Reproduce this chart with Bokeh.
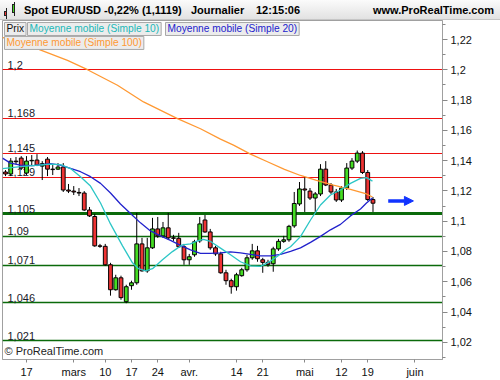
import numpy as np
from bokeh.plotting import figure
from bokeh.layouts import column
from bokeh.models import Range1d, FixedTicker, Label, Arrow, NormalHead, ColumnDataSource, Div
from bokeh.core.properties import value
from bokeh.embed import file_html
from bokeh.resources import INLINE

FONT = "Liberation Sans"

# ---------------- data ----------------
# daily candles, trading-day index 0..70 (11 Feb .. 20 May)
open_ = [1.1325, 1.1312, 1.1397, 1.1417, 1.1318, 1.1399, 1.1404, 1.1364, 1.1410, 1.1344,
         1.1344, 1.1358, 1.1206, 1.1199, 1.1190, 1.1186, 1.1074, 1.1031, 1.0837, 1.0834,
         1.0712, 1.0547, 1.0626, 1.0468, 1.0574, 1.0593, 1.0850, 1.0672, 1.0824, 1.0949,
         1.0903, 1.0956, 1.0890, 1.0887, 1.0831, 1.0745, 1.0778, 1.0870, 1.1008, 1.0929,
         1.0824, 1.0784, 1.0659, 1.0607, 1.0567, 1.0640, 1.0679, 1.0758, 1.0804, 1.0745,
         1.0728, 1.0719, 1.0817, 1.0867, 1.0877, 1.0969, 1.1114, 1.1213, 1.1199, 1.1153,
         1.1180, 1.1344, 1.1239, 1.1193, 1.1140, 1.1219, 1.1351, 1.1397, 1.1450, 1.1322,
         1.1143]
high = [1.1338, 1.1417, 1.1424, 1.1430, 1.1430, 1.1437, 1.1443, 1.1397, 1.1424, 1.1371,
        1.1384, 1.1384, 1.1246, 1.1232, 1.1219, 1.1199, 1.1094, 1.1048, 1.0850, 1.0850,
        1.0725, 1.0646, 1.0640, 1.0580, 1.0607, 1.1055, 1.0890, 1.0890, 1.1022, 1.1028,
        1.0995, 1.1055, 1.0910, 1.0923, 1.0850, 1.0784, 1.0877, 1.1028, 1.1041, 1.0949,
        1.0837, 1.0798, 1.0679, 1.0620, 1.0659, 1.0692, 1.0778, 1.0850, 1.0837, 1.0758,
        1.0745, 1.0831, 1.0883, 1.0903, 1.0976, 1.1193, 1.1259, 1.1292, 1.1219, 1.1193,
        1.1377, 1.1397, 1.1252, 1.1213, 1.1232, 1.1384, 1.1417, 1.1467, 1.1463, 1.1338,
        1.1160]
low = [1.1298, 1.1298, 1.1377, 1.1338, 1.1305, 1.1364, 1.1364, 1.1272, 1.1298, 1.1305,
       1.1338, 1.1193, 1.1186, 1.1173, 1.1166, 1.1068, 1.1028, 1.0831, 1.0824, 1.0705,
       1.0508, 1.0541, 1.0481, 1.0458, 1.0547, 1.0580, 1.0666, 1.0659, 1.0817, 1.0890,
       1.0890, 1.0877, 1.0870, 1.0824, 1.0712, 1.0712, 1.0765, 1.0857, 1.0923, 1.0811,
       1.0771, 1.0653, 1.0580, 1.0521, 1.0541, 1.0633, 1.0666, 1.0745, 1.0732, 1.0659,
       1.0699, 1.0666, 1.0804, 1.0857, 1.0864, 1.0956, 1.1101, 1.1061, 1.1140, 1.1061,
       1.1166, 1.1232, 1.1180, 1.1127, 1.1127, 1.1206, 1.1338, 1.1384, 1.1312, 1.1134,
       1.1061]
close = [1.1312, 1.1397, 1.1393, 1.1351, 1.1397, 1.1402, 1.1371, 1.1380, 1.1344, 1.1341,
         1.1358, 1.1206, 1.1199, 1.1193, 1.1186, 1.1074, 1.1035, 1.0837, 1.0834, 1.0712,
         1.0547, 1.0626, 1.0495, 1.0567, 1.0593, 1.0850, 1.0672, 1.0824, 1.0949, 1.0903,
         1.0956, 1.0890, 1.0887, 1.0831, 1.0745, 1.0765, 1.0864, 1.0982, 1.0929, 1.0824,
         1.0784, 1.0659, 1.0607, 1.0567, 1.0646, 1.0679, 1.0758, 1.0804, 1.0752, 1.0728,
         1.0715, 1.0817, 1.0867, 1.0877, 1.0966, 1.1117, 1.1213, 1.1206, 1.1153, 1.1180,
         1.1344, 1.1239, 1.1193, 1.1140, 1.1219, 1.1351, 1.1397, 1.1450, 1.1322, 1.1143,
         1.1119]
day_index = list(range(len(close)))

# moving averages (x = trading-day index)
ma10_x = [-0.57, 2.86, 8.57, 10.48, 12.38, 14.29, 16.19, 18.10, 20.0, 22.29, 24.19, 25.33, 26.67,
          28.0, 29.9, 31.8, 33.71, 35.24, 36.57, 37.71, 39.05, 40.95, 42.86, 44.76, 46.67, 48.57,
          50.1, 51.81, 53.33, 54.29, 56.19, 58.1, 60.0, 61.9, 63.81, 65.71, 67.62, 68.76, 69.9]
ma10_y = [1.1348, 1.1361, 1.1377, 1.1374, 1.1348, 1.1294, 1.1232, 1.1120, 1.0982, 1.0837, 1.0725,
          1.0686, 1.0672, 1.0686, 1.0745, 1.0799, 1.0844, 1.0850, 1.0870, 1.0880, 1.0866, 1.0822,
          1.0778, 1.0732, 1.0705, 1.0702, 1.0728, 1.0768, 1.0811, 1.0831, 1.0898, 1.1008, 1.1107,
          1.1173, 1.1206, 1.1250, 1.1283, 1.1288, 1.1265]
ma20_x = [-0.57, 0.95, 2.86, 5.33, 8.57, 10.48, 12.38, 14.29, 16.19, 18.1, 20.0, 21.9, 23.81,
          25.71, 27.62, 29.52, 31.43, 33.33, 35.24, 37.14, 39.05, 40.95, 42.86, 44.76, 46.67,
          48.57, 50.48, 52.38, 54.29, 56.19, 58.1, 60.0, 61.9, 63.81, 65.71, 67.62, 68.76, 69.9]
ma20_y = [1.1417, 1.1384, 1.1371, 1.1367, 1.1380, 1.1371, 1.1349, 1.1327, 1.1294, 1.1250, 1.1186,
          1.1114, 1.1051, 1.0989, 1.0936, 1.0903, 1.0873, 1.0840, 1.0811, 1.0788, 1.0788, 1.0791,
          1.0798, 1.0791, 1.0781, 1.0771, 1.0771, 1.0781, 1.0801, 1.0824, 1.0860, 1.0900, 1.0943,
          1.0979, 1.1035, 1.1081, 1.1120, 1.1153]
ma100_x = [-0.57, 6.1, 11.81, 15.62, 21.33, 26.29, 32.76, 37.14, 40.95, 43.43, 46.67, 49.9,
           53.14, 56.19, 59.24, 62.48, 65.71, 68.76, 69.9]
ma100_y = [1.2214, 1.2138, 1.2063, 1.2001, 1.1898, 1.1788, 1.1678, 1.1611, 1.1542, 1.1503, 1.1443,
           1.1393, 1.1343, 1.1302, 1.1269, 1.1239, 1.1210, 1.1180, 1.1160]

red_levels = [1.2, 1.168, 1.145, 1.129]
green_levels = [1.09, 1.071, 1.046, 1.021]
strong_levels = [1.105]

x_tick_pos = [4, 13, 19, 24, 29, 35, 44, 49, 57, 64, 69, 78]
x_tick_txt = ["17", "mars", "10", "17", "24", "avr.", "14", "21", "mai", "12", "19", "juin"]
y_tick_pos = [1.02, 1.04, 1.06, 1.08, 1.1, 1.12, 1.14, 1.16, 1.18, 1.2, 1.22]
y_tick_txt = ["1,02", "1,04", "1,06", "1,08", "1,1", "1,12", "1,14", "1,16", "1,18", "1,2", "1,22"]
y_minor = [1.01, 1.03, 1.05, 1.07, 1.09, 1.11, 1.13, 1.15, 1.17, 1.19, 1.21, 1.23]

header_items = ["Spot EUR/USD", "-0,22% (1,1119)", "Journalier", "12:15:06"]
header_left = [24, 104, 191, 256]
site_text = "www.ProRealTime.com"
legend_items = ["Prix", "Moyenne mobile (Simple 10)", "Moyenne mobile (Simple 20)",
                "Moyenne mobile (Simple 100)"]
arrow_x = [72.9, 77.7]
arrow_y = 1.1134

# ---------------- styling ----------------
GREEN_BODY = "#44dd22"
RED_BODY = "#ee3333"
C_MA10 = "#2cc6c6"
C_MA20 = "#2222cc"
C_MA100 = "#ff9933"
GRAY = "#a0a0a0"

FIG_W = 500
HDR_H = 20
MAIN_H = 360
BL, BR, BT, BB = 2, 58, 0, 20
FW = FIG_W - BL - BR
FH = MAIN_H - BT - BB
X0, X1 = -0.571, 83.24
Y0, Y1 = 1.00862, 1.23261


def px2x(px):
    return X0 + px * (X1 - X0) / FW


def px2y(py):
    return Y1 - py * (Y1 - Y0) / FH


# ---------------- header (HTML strip) ----------------
spans = "".join(
    '<span style="position:absolute;left:%dpx;top:4px;">%s</span>' % (lx, t)
    for lx, t in zip(header_left, header_items)
)
icon = (
    '<div style="position:absolute;left:6px;top:8px;width:1px;height:11px;background:#222;"></div>'
    '<div style="position:absolute;left:4px;top:11px;width:3px;height:5px;background:%s;'
    'border:1px solid #222;"></div>'
    '<div style="position:absolute;left:14px;top:2px;width:1px;height:14px;background:#222;"></div>'
    '<div style="position:absolute;left:12px;top:4px;width:3px;height:9px;background:%s;'
    'border:1px solid #222;"></div>' % (RED_BODY, GREEN_BODY)
)
header_html = (
    '<div style="position:relative;width:%dpx;height:%dpx;overflow:hidden;box-sizing:border-box;'
    'background:linear-gradient(to bottom,#fbfbfb,#e2e2e2);border-bottom:1px solid #c6c6c6;'
    "font-family:'%s',Arial,sans-serif;font-weight:bold;font-size:11px;line-height:12px;color:#000;\">"
    '%s%s<span style="position:absolute;right:6px;top:4px;">%s</span></div>'
    % (FIG_W, HDR_H, FONT, icon, spans, site_text)
)
hdr = Div(text=header_html, width=FIG_W, height=HDR_H, margin=0)

# ---------------- main chart ----------------
p = figure(width=FIG_W, height=MAIN_H, x_range=Range1d(X0, X1), y_range=Range1d(Y0, Y1),
           toolbar_location=None, output_backend="svg", x_axis_location="below",
           y_axis_location="right", min_border_left=BL, min_border_right=BR,
           min_border_top=BT, min_border_bottom=BB)
p.grid.visible = False
p.outline_line_color = GRAY
p.background_fill_color = "white"
p.border_fill_color = "white"

ya = p.yaxis[0]
ya.ticker = FixedTicker(ticks=y_tick_pos, minor_ticks=y_minor)
ya.major_label_overrides = {v: t for v, t in zip(y_tick_pos, y_tick_txt)}
ya.axis_line_color = GRAY
ya.major_tick_line_color = "#888888"
ya.minor_tick_line_color = "#888888"
ya.major_tick_out = 5
ya.major_tick_in = 0
ya.minor_tick_out = 3
ya.minor_tick_in = 0
ya.major_label_standoff = 3
ya.major_label_text_font = FONT
ya.major_label_text_font_size = "11px"
ya.major_label_text_color = "#111111"

xa = p.xaxis[0]
xa.ticker = FixedTicker(ticks=x_tick_pos, minor_ticks=[])
xa.major_label_overrides = {v: t for v, t in zip(x_tick_pos, x_tick_txt)}
xa.axis_line_color = GRAY
xa.major_tick_line_color = "#888888"
xa.major_tick_out = 3
xa.major_tick_in = 0
xa.minor_tick_out = 0
xa.minor_tick_in = 0
xa.major_label_standoff = 3
xa.major_label_text_font = FONT
xa.major_label_text_font_size = "11px"
xa.major_label_text_color = "#111111"

# horizontal levels
p.hspan(y=red_levels, line_color="#ee1111", line_width=1.2)
p.hspan(y=green_levels, line_color="#0a6a0a", line_width=1.3)
p.hspan(y=strong_levels, line_color="#0a6a0a", line_width=3.2)
all_levels = red_levels + strong_levels + green_levels
level_txt = [("%g" % v).replace(".", ",") for v in all_levels]
p.text(x=[px2x(5)] * len(all_levels), y=all_levels, text=level_txt, text_font=value(FONT),
       text_font_size="11px", text_color="#1a1a2a", text_baseline="bottom", text_align="left",
       y_offset=-1)

p.text(x=[px2x(2)], y=[px2y(FH - 3)], text=["\u00a9 ProRealTime.com"], text_font=value(FONT),
       text_font_size="11px", text_color="#222222", text_baseline="bottom", text_align="left")

# candles
o = np.array(open_)
c = np.array(close)
src = ColumnDataSource(dict(
    x=day_index, high=high, low=low,
    top=np.maximum(o, c), bottom=np.minimum(o, c),
    color=[GREEN_BODY if cc >= oo else RED_BODY for oo, cc in zip(open_, close)],
))
p.segment(x0="x", x1="x", y0="low", y1="high", source=src, line_color="black", line_width=1)
p.vbar(x="x", width=0.72, top="top", bottom="bottom", source=src, fill_color="color",
       line_color="black", line_width=1)

# moving averages
p.line(ma100_x, ma100_y, line_color=C_MA100, line_width=1.3)
p.line(ma20_x, ma20_y, line_color=C_MA20, line_width=1.3)
p.line(ma10_x, ma10_y, line_color=C_MA10, line_width=1.3)

# arrow
p.add_layout(Arrow(end=NormalHead(size=9, fill_color="#1133ff", line_color="#1133ff"),
                   x_start=arrow_x[0], x_end=arrow_x[1], y_start=arrow_y, y_end=arrow_y,
                   line_color="#1133ff", line_width=3.5))

# legend boxes
leg_colors = ["#111111", "#20b8b8", "#2222cc", "#ff9933"]
leg_left = [0, 23, 161, 0]
leg_top = [2, 2, 2, 16]
for t, col, lx, ty in zip(legend_items, leg_colors, leg_left, leg_top):
    p.add_layout(Label(x=px2x(lx + 2), y=px2y(ty), text=t, text_font=FONT,
                       text_font_size="10.2px", text_color=col, text_align="left",
                       text_baseline="top", background_fill_color="#ececec",
                       border_line_color="#a8a8a8", padding=(2, 1)))

page = column(hdr, p, spacing=0)
open("out.html", "w").write(file_html(page, INLINE))
